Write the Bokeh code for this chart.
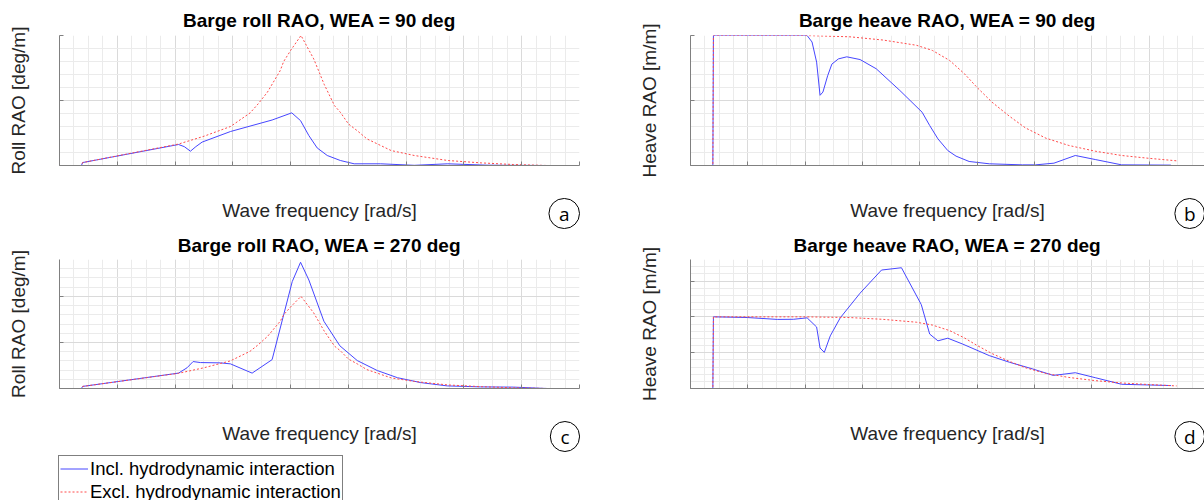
from bokeh.plotting import figure
from bokeh.layouts import column, row
from bokeh.models import Range1d, SingleIntervalTicker, Title, Legend, LegendItem, CustomJSTickFormatter
from bokeh.embed import file_html
from bokeh.resources import INLINE

# ---------------- data ----------------
# Roll RAO, excluding hydrodynamic interaction (same for WEA 90 and 270)
roll_excl_freq = [0.0, 0.19, 0.2, 1.03, 1.25, 1.48, 1.65, 1.72, 1.80, 1.91, 1.94, 2.0, 2.09,
                  2.2, 2.29, 2.38, 2.43, 2.5, 2.58, 2.66, 2.87, 3.07, 3.36, 3.65, 3.93, 4.22]
roll_excl = [0.0, 0.0, 0.045, 0.33, 0.45, 0.60, 0.81, 0.95, 1.13, 1.46, 1.60, 1.77, 2.0,
             1.64, 1.25, 0.92, 0.82, 0.64, 0.53, 0.41, 0.23, 0.154, 0.077, 0.04, 0.015, 0.0]

# Roll RAO WEA 90, including interaction
roll90_incl_freq = [0.0, 0.19, 0.2, 1.03, 1.08, 1.133, 1.18, 1.234, 1.48, 1.84, 2.01, 2.086,
                    2.158, 2.23, 2.317, 2.43, 2.55, 2.78, 3.07, 3.36, 3.70, 4.22]
roll90_incl = [0.0, 0.0, 0.045, 0.323, 0.29, 0.22, 0.29, 0.36, 0.523, 0.70, 0.81, 0.69,
               0.46, 0.27, 0.154, 0.077, 0.026, 0.026, 0.003, 0.026, 0.005, 0.0]

# Roll RAO WEA 270, including interaction
roll270_incl_freq = [0.0, 0.19, 0.2, 1.03, 1.104, 1.156, 1.219, 1.393, 1.479, 1.667, 1.84,
                     2.014, 2.086, 2.158, 2.288, 2.426, 2.577, 2.75, 2.924, 3.126, 3.357,
                     3.645, 3.93, 4.22]
roll270_incl = [0.0, 0.0, 0.045, 0.334, 0.45, 0.585, 0.563, 0.556, 0.535, 0.334, 0.627,
                2.32, 2.74, 2.355, 1.46, 0.927, 0.606, 0.39, 0.235, 0.128, 0.056,
                0.035, 0.03, 0.0]

# Heave RAO, excluding hydrodynamic interaction (same for WEA 90 and 270)
heave_excl_freq = [0.0, 0.195, 0.2, 1.0, 1.39, 1.68, 1.97, 2.11, 2.26, 2.39, 2.50, 2.63,
                   2.78, 2.92, 3.10, 3.30, 3.53, 3.76, 3.99, 4.24]
heave_excl = [0.0, 0.0, 1.0, 1.0, 0.99, 0.965, 0.925, 0.885, 0.808, 0.705, 0.60, 0.487,
              0.38, 0.29, 0.21, 0.154, 0.11, 0.077, 0.056, 0.036]

# Heave RAO WEA 90, including interaction
heave90_incl_freq = [0.0, 0.195, 0.2, 1.017, 1.06, 1.10, 1.13, 1.155, 1.196, 1.233, 1.29,
                     1.363, 1.479, 1.62, 1.826, 2.02, 2.086, 2.158, 2.244, 2.316, 2.43,
                     2.606, 2.894, 3.01, 3.17, 3.356, 3.53, 3.76, 4.19]
heave90_incl = [0.0, 0.0, 1.0, 1.0, 0.95, 0.795, 0.54, 0.565, 0.69, 0.78, 0.82,
                0.836, 0.815, 0.744, 0.577, 0.41, 0.308, 0.205, 0.115, 0.072, 0.031,
                0.013, 0.005, 0.005, 0.018, 0.077, 0.046, 0.005, 0.003]

# Heave RAO WEA 270, including interaction
heave270_incl_freq = [0.0, 0.195, 0.2, 0.5, 0.757, 0.9, 1.017, 1.10, 1.13, 1.167, 1.219,
                      1.306, 1.479, 1.666, 1.84, 2.013, 2.086, 2.158, 2.244, 2.374, 2.606,
                      2.78, 2.98, 3.163, 3.24, 3.356, 3.53, 3.76, 4.19]
heave270_incl = [0.0, 0.0, 1.0, 0.99, 0.964, 0.966, 0.986, 0.858, 0.565, 0.504, 0.734,
                 0.986, 1.33, 1.653, 1.685, 1.17, 0.76, 0.665, 0.702, 0.62, 0.459,
                 0.367, 0.275, 0.183, 0.197, 0.22, 0.151, 0.059, 0.041]

titles = ["Barge roll RAO, WEA = 90 deg", "Barge heave RAO, WEA = 90 deg",
          "Barge roll RAO, WEA = 270 deg", "Barge heave RAO, WEA = 270 deg"]
ylabels = ["Roll RAO [deg/m]", "Heave RAO [m/m]", "Roll RAO [deg/m]", "Heave RAO [m/m]"]
xlabel = "Wave frequency [rad/s]"
letters = ["a", "b", "c", "d"]
legend_labels = ["Incl. hydrodynamic interaction", "Excl. hydrodynamic interaction"]

BLUE = "#4646ff"
RED = "#ff4a4a"
FONT = "Liberation Sans"


def make_panel(title, ylabel, x_inc, y_inc, x_exc, y_exc, y_max, y_major, x_end,
               width, height, left, top, bottom, right, title_standoff, letter, pad_x):
    p = figure(width=width, height=height, x_range=Range1d(0, x_end), y_range=Range1d(0, y_max),
               output_backend="svg", toolbar_location=None,
               min_border_left=left, min_border_right=right, min_border_top=top,
               min_border_bottom=bottom, outline_line_color=None)
    p.title.text = title
    p.title.text_font = FONT
    p.title.text_font_size = "19px"
    p.title.text_font_style = "bold"
    p.title.text_color = "black"
    p.title.align = "center"
    p.title.standoff = title_standoff
    xt = SingleIntervalTicker(interval=0.5, num_minor_ticks=4)
    yt = SingleIntervalTicker(interval=y_major, num_minor_ticks=5)
    p.xaxis.ticker = xt
    p.xgrid.ticker = xt
    p.yaxis.ticker = yt
    p.ygrid.ticker = yt
    for ax in (p.xaxis[0], p.yaxis[0]):
        ax.formatter = CustomJSTickFormatter(code="return ''")
        ax.major_label_text_font_size = "0px"
        ax.major_label_standoff = 0
        ax.axis_line_color = "#808080"
        ax.major_tick_line_color = "#808080"
        ax.major_tick_in = 4
        ax.major_tick_out = 0
        ax.minor_tick_line_color = None
        ax.axis_label_text_font = FONT
        ax.axis_label_text_font_size = "19px"
        ax.axis_label_text_font_style = "normal"
        ax.axis_label_text_color = "#262626"
    p.xaxis.axis_label = xlabel
    p.yaxis.axis_label = ylabel
    p.xaxis.axis_label_standoff = 30
    p.yaxis.axis_label_standoff = 27
    for g in (p.xgrid[0], p.ygrid[0]):
        g.grid_line_color = "#dadada"
        g.minor_grid_line_color = "#ebebeb"
    p.line(x_inc, y_inc, line_color=BLUE, line_width=1)
    p.line(x_exc, y_exc, line_color=RED, line_width=1, line_dash="2 2")
    # circled panel letter, placed in the bottom side panel (not clipped by the frame)
    tag = Title(text=letter, align="right", vertical_align="top", offset=0, standoff=-50,
                text_font="Open Sans", text_font_size="19px", text_font_style="normal",
                text_color="black", border_line_color="black", border_line_width=1,
                border_radius=15, padding=dict(left=pad_x, right=pad_x, top=2, bottom=2))
    p.add_layout(tag, "below")
    return p


W_A, W_B = 635, 569
pa = make_panel(titles[0], ylabels[0], roll90_incl_freq, roll90_incl, roll_excl_freq, roll_excl,
                2.0, 1.0, 4.5, W_A, 229, 59, 35, 64, 56, 10, letters[0], 10)
pb = make_panel(titles[1], ylabels[1], heave90_incl_freq, heave90_incl, heave_excl_freq, heave_excl,
                1.0, 0.5, 4.483, W_B, 229, 51, 35, 64, 0, 10, letters[1], 9)
pc = make_panel(titles[2], ylabels[2], roll270_incl_freq, roll270_incl, roll_excl_freq, roll_excl,
                2.8, 1.0, 4.5, W_A, 223, 59, 29, 64, 56, 7, letters[2], 10)
pd = make_panel(titles[3], ylabels[3], heave270_incl_freq, heave270_incl, heave_excl_freq, heave_excl,
                1.8, 0.5, 4.483, W_B, 223, 51, 29, 64, 0, 7, letters[3], 9)

# legend strip (proxy renderers kept outside the visible range)
pl = figure(width=400, height=48, x_range=Range1d(-2, -1), y_range=Range1d(-2, -1),
            x_axis_type=None, y_axis_type=None, toolbar_location=None, output_backend="svg",
            min_border_left=58, min_border_top=3, min_border_bottom=0, min_border_right=0,
            outline_line_color=None)
r1 = pl.line(roll90_incl_freq, roll90_incl, line_color=BLUE, line_width=1)
r2 = pl.line(roll_excl_freq, roll_excl, line_color=RED, line_width=1, line_dash="2 2")
legend = Legend(items=[LegendItem(label=legend_labels[0], renderers=[r1]),
                       LegendItem(label=legend_labels[1], renderers=[r2])],
                location="top_left", margin=0, padding=1, spacing=0,
                label_text_font=FONT, label_text_font_size="18.5px", label_text_color="black",
                glyph_width=28, glyph_height=23, label_height=23, label_standoff=2,
                border_line_color="black", border_line_width=1, background_fill_alpha=1.0)
pl.add_layout(legend)

layout = column(row(pa, pb), row(pc, pd), pl)
open("out.html", "w").write(file_html(layout, INLINE))
